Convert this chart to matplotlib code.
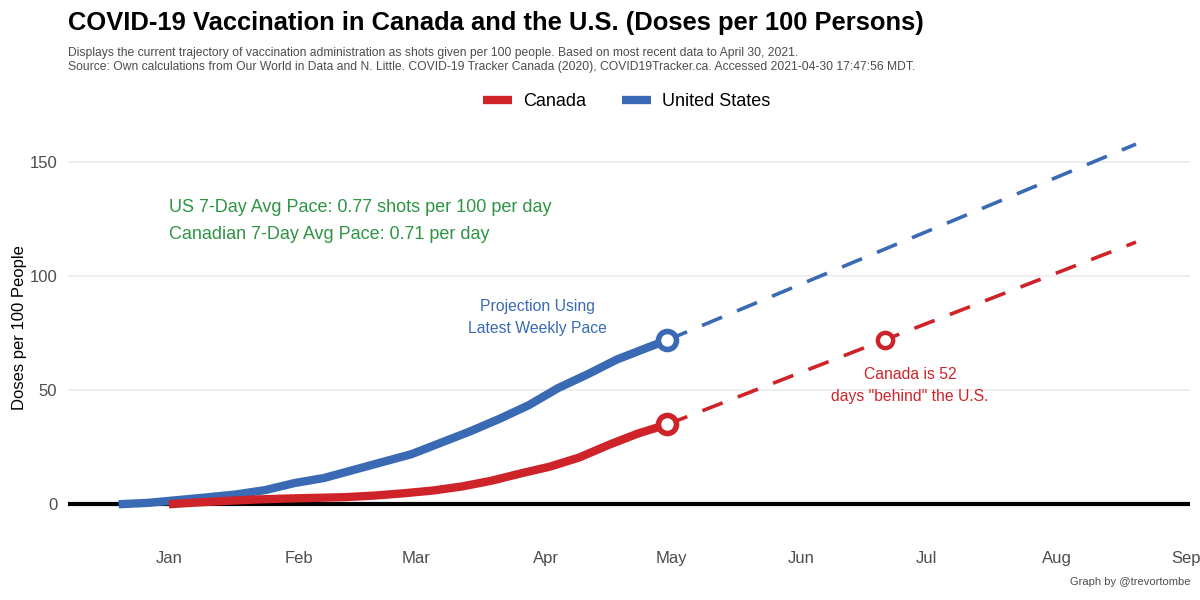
import matplotlib
matplotlib.use('Agg')
import matplotlib.pyplot as plt
import matplotlib.dates as mdates
import pandas as pd

plt.rcParams['font.family'] = ['Liberation Sans', 'DejaVu Sans']

RED = '#cf232a'
BLUE = '#3a6ab4'
GREEN = '#2f9444'

# US doses per 100
us_dates = ['2020-12-20', '2020-12-27', '2021-01-03', '2021-01-10', '2021-01-17',
            '2021-01-24', '2021-01-31', '2021-02-07', '2021-02-14', '2021-02-21',
            '2021-02-28', '2021-03-07', '2021-03-14', '2021-03-21', '2021-03-28',
            '2021-04-04', '2021-04-11', '2021-04-18', '2021-04-25', '2021-04-30']
us_doses = [0.0, 0.6, 1.8, 3.0, 4.3, 6.2, 9.3, 11.5, 15.0, 18.5,
            22.0, 27.0, 32.0, 37.5, 43.5, 51.0, 57.0, 63.5, 68.5, 72.0]

# Canada doses per 100
ca_dates = ['2021-01-01', '2021-01-08', '2021-01-15', '2021-01-22', '2021-01-29',
            '2021-02-05', '2021-02-12', '2021-02-19', '2021-02-26', '2021-03-05',
            '2021-03-12', '2021-03-19', '2021-03-26', '2021-04-02', '2021-04-09',
            '2021-04-16', '2021-04-23', '2021-04-30']
ca_doses = [0.0, 0.8, 1.5, 2.1, 2.5, 2.8, 3.1, 3.8, 4.8, 6.0,
            7.8, 10.3, 13.5, 16.5, 20.5, 26.0, 31.0, 35.0]

# projections at latest weekly pace
proj_dates = ['2021-04-30', '2021-08-20']
us_proj = [72.0, 158.0]
ca_proj = [35.0, 115.0]
ca_catchup_date = '2021-06-21'
ca_catchup_value = 72.0

us_d = pd.to_datetime(us_dates)
ca_d = pd.to_datetime(ca_dates)
pr_d = pd.to_datetime(proj_dates)

fig = plt.figure(figsize=(12, 6), dpi=100)
ax = fig.add_axes([0.057, 0.133, 0.935, 0.642])

ax.axhline(0, color='black', lw=3, zorder=2)
ax.plot(pr_d, us_proj, color=BLUE, lw=2.6, dashes=(6, 4.5), zorder=3)
ax.plot(pr_d, ca_proj, color=RED, lw=2.6, dashes=(6, 4.5), zorder=3)
ax.plot(us_d, us_doses, color=BLUE, lw=6, solid_capstyle='butt', zorder=4, label='United States')
ax.plot(ca_d, ca_doses, color=RED, lw=6, solid_capstyle='butt', zorder=4, label='Canada')

ax.plot(us_d[-1:], us_doses[-1:], 'o', ms=13, mfc='white', mec=BLUE, mew=4, zorder=5)
ax.plot(ca_d[-1:], ca_doses[-1:], 'o', ms=13, mfc='white', mec=RED, mew=4, zorder=5)
ax.plot(pd.to_datetime([ca_catchup_date]), [ca_catchup_value], 'o', ms=11, mfc='white',
        mec=RED, mew=3.2, zorder=5)

ax.set_xlim(pd.Timestamp('2020-12-08'), pd.Timestamp('2021-09-02'))
ax.set_ylim(-7, 162)
ax.set_yticks([0, 50, 100, 150])
ax.xaxis.set_major_locator(mdates.MonthLocator())
ax.xaxis.set_major_formatter(mdates.DateFormatter('%b'))
ax.grid(axis='y', color='#ebebeb', lw=1.2)
ax.grid(axis='x', visible=False)
ax.set_axisbelow(True)
for s in ax.spines.values():
    s.set_visible(False)
ax.tick_params(length=0, labelsize=12, labelcolor='#4d4d4d', pad=8)
ax.tick_params(axis='x', pad=22)
ax.set_ylabel('Doses per 100 People', fontsize=12, labelpad=1.5)

ax.text(pd.Timestamp('2021-01-01'), 130, 'US 7-Day Avg Pace: 0.77 shots per 100 per day',
        color=GREEN, fontsize=13, va='center')
ax.text(pd.Timestamp('2021-01-01'), 118.5, 'Canadian 7-Day Avg Pace: 0.71 per day',
        color=GREEN, fontsize=13, va='center')
ax.text(pd.Timestamp('2021-03-30'), 82, 'Projection Using\nLatest Weekly Pace',
        color=BLUE, fontsize=11.3, ha='center', va='center', linespacing=1.6)
ax.text(pd.Timestamp('2021-06-27'), 52, 'Canada is 52\ndays "behind" the U.S.',
        color=RED, fontsize=11.3, ha='center', va='center', linespacing=1.6)

h, l = ax.get_legend_handles_labels()
fig.legend(h[::-1], l[::-1], loc='center', bbox_to_anchor=(0.522, 0.831), ncol=2,
           frameon=False, fontsize=13, handlelength=1.6, handletextpad=0.6,
           columnspacing=2.0)

fig.text(0.057, 0.962, 'COVID-19 Vaccination in Canada and the U.S. (Doses per 100 Persons)',
         fontsize=18.4, fontweight='bold', va='center')
fig.text(0.057, 0.9, 'Displays the current trajectory of vaccination administration as shots given per 100 people. '
         'Based on most recent data to April 30, 2021.\n'
         'Source: Own calculations from Our World in Data and N. Little. COVID-19 Tracker Canada (2020), '
         'COVID19Tracker.ca. Accessed 2021-04-30 17:47:56 MDT.',
         fontsize=8.7, color='#4d4d4d', va='center', linespacing=1.3)
fig.text(0.992, 0.03, 'Graph by @trevortombe', fontsize=8, color='#4d4d4d', ha='right', va='center')

fig.savefig('out.png', dpi=100)
